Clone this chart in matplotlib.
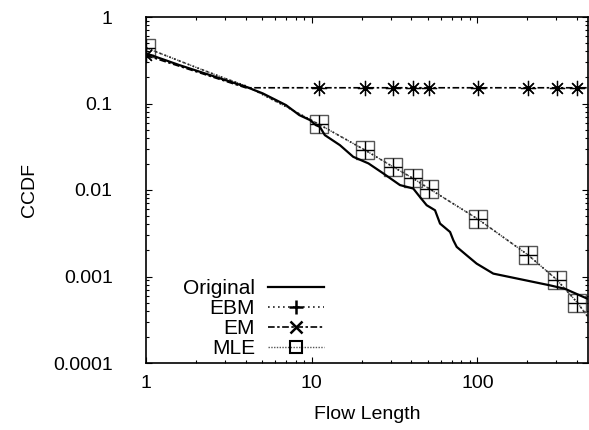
import numpy as np
import matplotlib
matplotlib.use("Agg")
import matplotlib.pyplot as plt
from matplotlib.lines import Line2D
from matplotlib.ticker import FixedLocator, FixedFormatter, LogLocator, NullFormatter

plt.rcParams['font.family'] = ['Liberation Sans', 'DejaVu Sans']

##########
########## Data
##########

orig_x = [1, 1.59, 4.01, 5.06, 7.0, 8.42, 9.77, 10.6, 11.2, 12.0, 14.8, 17.8, 22.0, 27.1,
          34.1, 41.0, 45.0, 49.4, 55.5, 59.5, 68.4, 71.6, 75, 86.1, 98.9, 124.7,
          274, 338, 465]
orig_y = [0.38, 0.278, 0.156, 0.131, 0.0958, 0.0734, 0.0643, 0.0562, 0.0537, 0.0431,
          0.0330, 0.0242, 0.0203, 0.0155, 0.0114, 0.0104, 0.0083, 0.00667, 0.00583,
          0.00409, 0.00327, 0.00262, 0.0022, 0.00176, 0.00141, 0.00108,
          0.00079, 0.00072, 0.00055]

mark_x = [1, 11, 21, 31, 41, 51, 101, 201, 301, 401]

ebm_x = [1, 2, 3, 4, 7, 11, 21, 31, 41, 51, 101, 201, 301, 401, 465]
ebm_y = [0.44, 0.262, 0.195, 0.160, 0.092, 0.0578, 0.0289, 0.0185, 0.0136, 0.0104,
         0.00459, 0.00179, 0.00092, 0.000499, 0.00034]

em_x = [1, 4.0, 11, 21, 31, 41, 51, 101, 201, 301, 401, 465]
em_y = [0.36, 0.152, 0.152, 0.152, 0.152, 0.152, 0.152, 0.152, 0.152, 0.152, 0.152, 0.152]

mle_x = ebm_x
mle_y = ebm_y

xticks = [1, 10, 100]
xlabels = ["1", "10", "100"]
yticks = [0.0001, 0.001, 0.01, 0.1, 1]
ylabels = ["0.0001", "0.001", "0.01", "0.1", "1"]

##########
########## Plot
##########

fig = plt.figure(figsize=(5.89, 4.30), dpi=100)
ax = fig.add_axes([146/589, 1-363/430, 442/589, 346/430])
ax.set_xscale("log")
ax.set_yscale("log")

def idx(xs):
    return [i for i, v in enumerate(xs) if v in mark_x]

ax.plot(orig_x, orig_y, color="black", lw=1.6, zorder=3)
ax.plot(mle_x, mle_y, color="#555555", lw=1.0, ls=(0, (1, 1)),
        marker="s", markevery=idx(mle_x), ms=13, mfc="none", mec="#555555", mew=1.0, zorder=2)
ax.plot(ebm_x, ebm_y, color="#222222", lw=1.2, ls=(0, (1, 2)),
        marker="+", markevery=idx(ebm_x), ms=13, mec="black", mew=1.0, zorder=2)
ax.plot(em_x, em_y, color="black", lw=1.2, ls=(0, (4, 1.5, 1.5, 1.5)),
        marker=(8, 2, 0), markevery=idx(em_x), ms=11, mec="black", mew=0.9, zorder=2)

ax.set_xlim(1, 465)
ax.set_ylim(0.0001, 1)

ax.xaxis.set_major_locator(FixedLocator(xticks))
ax.xaxis.set_major_formatter(FixedFormatter(xlabels))
ax.yaxis.set_major_locator(FixedLocator(yticks))
ax.yaxis.set_major_formatter(FixedFormatter(ylabels))
ax.xaxis.set_minor_locator(LogLocator(base=10, subs=np.arange(2, 10)))
ax.yaxis.set_minor_locator(LogLocator(base=10, subs=np.arange(2, 10)))
ax.xaxis.set_minor_formatter(NullFormatter())
ax.yaxis.set_minor_formatter(NullFormatter())

ax.tick_params(which="both", direction="in", top=True, right=True, labelsize=14)
ax.tick_params(which="major", length=4, width=0.8)
ax.tick_params(which="minor", length=2.2, width=0.8)
ax.tick_params(axis="x", pad=9)
ax.tick_params(axis="y", pad=24)
for s in ax.spines.values():
    s.set_linewidth(1.2)

ax.set_xlabel("Flow Length", fontsize=14)
ax.set_ylabel("CCDF", fontsize=14)
ax.xaxis.set_label_coords(0.5, -0.125)
ax.yaxis.set_label_coords(-0.245, 0.5)

handles = [
    Line2D([], [], color="black", lw=1.6),
    Line2D([], [], color="#222222", lw=1.2, ls=(0, (1, 2)), marker="+", ms=10, mew=1.8, mec="black"),
    Line2D([], [], color="black", lw=1.2, ls=(0, (4, 1.5, 1.5, 1.5)), marker="x", ms=8, mew=1.8, mec="black"),
    Line2D([], [], color="#555555", lw=1.0, ls=(0, (1, 1)), marker="s", ms=8, mfc="none", mew=1.5, mec="black"),
]
ax.legend(handles, ["Original", "EBM", "EM", "MLE"], loc="lower left",
          bbox_to_anchor=(0.065, -0.01), frameon=False, markerfirst=False,
          fontsize=15, handlelength=2.7, handletextpad=0.6, labelspacing=0.05,
          borderaxespad=0.0)

fig.savefig("out.png", dpi=100)
